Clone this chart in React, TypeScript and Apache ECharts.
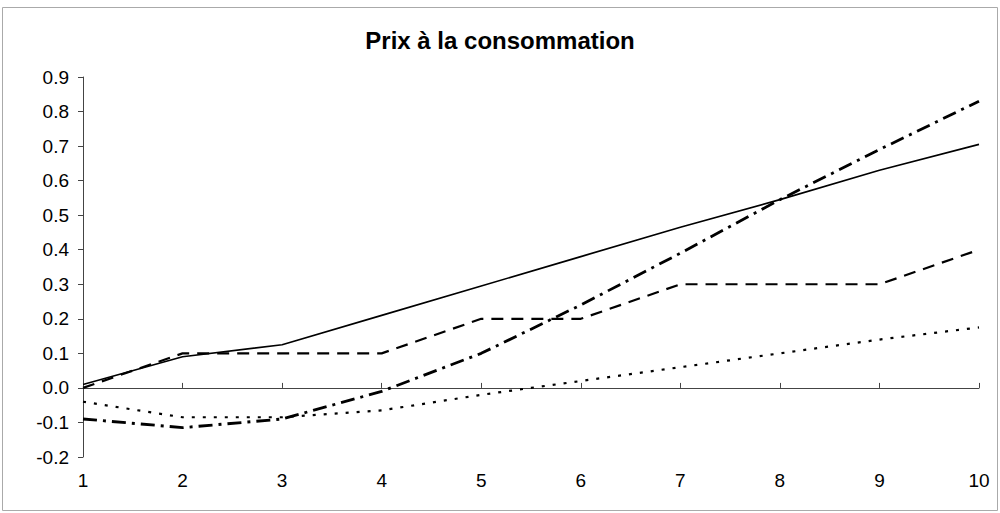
import React, { useEffect, useRef } from "react";
import * as echarts from "echarts";

const categories = ["1", "2", "3", "4", "5", "6", "7", "8", "9", "10"];
const solidSeries = [0.01, 0.09, 0.125, 0.21, 0.295, 0.38, 0.465, 0.545, 0.63, 0.705];
const dashedSeries = [0.0, 0.1, 0.1, 0.1, 0.2, 0.2, 0.3, 0.3, 0.3, 0.4];
const dashDotSeries = [-0.09, -0.115, -0.09, -0.01, 0.1, 0.24, 0.39, 0.545, 0.69, 0.83];
const dottedSeries = [-0.04, -0.085, -0.085, -0.065, -0.02, 0.02, 0.06, 0.1, 0.14, 0.175];
const yTicks = { min: -0.2, max: 0.9, interval: 0.1 };
const titleText = "Prix à la consommation";

export default function App() {
  const ref = useRef<HTMLDivElement>(null);
  useEffect(() => {
    if (!ref.current) return;
    const chart = echarts.init(ref.current, undefined, { renderer: "svg" });
    const font = "'Liberation Sans', Arial, sans-serif";
    const axisColor = "#444";
    chart.setOption({
      animation: false,
      backgroundColor: "#fff",
      title: {
        text: titleText,
        left: "center",
        top: 23,
        textStyle: { fontFamily: font, fontSize: 24, fontWeight: "bold", color: "#000" },
      },
      grid: { left: 83, right: 21, top: 77, bottom: 56 },
      xAxis: [
        {
          type: "category",
          data: categories,
          boundaryGap: false,
          position: "top",
          axisLine: { onZero: true, lineStyle: { color: axisColor, width: 1 } },
          axisTick: { show: true, length: 5, lineStyle: { color: axisColor } },
          axisLabel: { show: false },
          splitLine: { show: false },
        },
        {
          type: "category",
          data: categories,
          boundaryGap: false,
          position: "bottom",
          axisLine: { show: false, onZero: false },
          axisTick: { show: false },
          axisLabel: { show: true, margin: 14, fontFamily: font, fontSize: 19, color: "#000" },
          splitLine: { show: false },
        },
      ],
      yAxis: {
        type: "value",
        min: yTicks.min,
        max: yTicks.max,
        interval: yTicks.interval,
        axisLine: { show: true, lineStyle: { color: axisColor, width: 1 } },
        axisTick: { show: true, length: 5, lineStyle: { color: axisColor } },
        axisLabel: {
          margin: 14,
          fontFamily: font,
          fontSize: 19,
          color: "#000",
          formatter: (v: number) => v.toFixed(1),
        },
        splitLine: { show: false },
      },
      series: [
        {
          type: "line",
          data: solidSeries,
          symbol: "none",
          lineStyle: { color: "#000", width: 1.6, type: "solid" },
        },
        {
          type: "line",
          data: dashedSeries,
          symbol: "none",
          lineStyle: { color: "#000", width: 2.2, type: [12, 8] },
        },
        {
          type: "line",
          data: dashDotSeries,
          symbol: "none",
          lineStyle: { color: "#000", width: 2.8, type: [14, 6, 3, 6] },
        },
        {
          type: "line",
          data: dottedSeries,
          symbol: "none",
          lineStyle: { color: "#000", width: 2.2, type: [3, 8] },
        },
      ],
      graphic: [
        {
          type: "rect",
          shape: { x: 2.5, y: 7.5, width: 995, height: 503 },
          style: { fill: "none", stroke: "#aaa", lineWidth: 1 },
          silent: true,
        },
      ],
    });
    return () => chart.dispose();
  }, []);
  return <div ref={ref} style={{ width: 1000, height: 513, position: "absolute", left: 0, top: 0 }} />;
}
